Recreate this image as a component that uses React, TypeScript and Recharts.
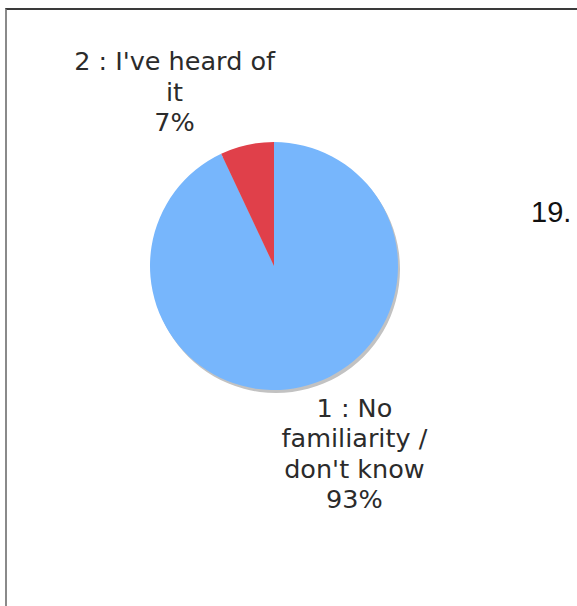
import React from 'react';
import { PieChart, Pie, Cell } from 'recharts';

// answers to the survey question, shares in percent
const answers = ["1 : No familiarity / don't know", "2 : I've heard of it"];
const shares = [93, 7];
const labelLines = [
  ['1 : No', 'familiarity /', "don't know"],
  ["2 : I've heard of", 'it'],
];
const sliceColors = ['#77b6fc', '#e0404a'];

const data = answers.map((name, i) => ({
  name,
  value: shares[i],
  lines: labelLines[i],
}));
const shadow = [{ name: 'shadow', value: 1 }];

const RADIAN = Math.PI / 180;
const LINE_H = 30.5;

const renderLabel = (props: any) => {
  const { cx, cy, midAngle, outerRadius, percent, index } = props;
  const entry = props.payload && props.payload.lines ? props.payload : data[index];
  const cos = Math.cos(-midAngle * RADIAN);
  const sin = Math.sin(-midAngle * RADIAN);
  const ax = cx + (outerRadius + 20) * cos;
  const ay = cy + (outerRadius + 20) * sin;
  const lines: string[] = [...entry.lines, `${Math.round(percent * 100)}%`];
  const x = ax + (cos < 0 ? -68 : 49);
  const up = sin < 0;
  return (
    <g>
      {lines.map((t, i) => {
        const y = up
          ? ay + 6 - (lines.length - 1 - i) * LINE_H
          : ay + 10 + i * LINE_H;
        return (
          <text
            key={i}
            x={x}
            y={y}
            textAnchor="middle"
            fill="#2b2b2b"
            fontSize={25.5}
            fontFamily="Verdana, 'DejaVu Sans', sans-serif"
          >
            {t}
          </text>
        );
      })}
    </g>
  );
};

export default function App() {
  return (
    <div
      style={{
        position: 'absolute',
        left: 0,
        top: 0,
        width: 577,
        height: 606,
        overflow: 'hidden',
        background: '#fff',
      }}
    >
      <div
        style={{
          position: 'absolute',
          left: 5,
          top: 8,
          width: 572,
          height: 598,
          borderLeft: '2px solid #8a8a8a',
          borderTop: '2px solid #3a3a3a',
          boxSizing: 'border-box',
        }}
      />
      <div
        style={{
          position: 'absolute',
          left: 531,
          top: 196,
          fontFamily: "Arial, 'Liberation Sans', sans-serif",
          fontSize: 29,
          color: '#111',
          whiteSpace: 'nowrap',
        }}
      >
        19.
      </div>
      <div style={{ position: 'absolute', left: 0, top: 0 }}>
        <PieChart
          width={520}
          height={606}
          margin={{ top: 0, right: 0, bottom: 0, left: 0 }}
        >
          <Pie
            data={shadow}
            dataKey="value"
            cx={276}
            cy={269}
            outerRadius={124}
            fill="#c2c2c2"
            stroke="none"
            isAnimationActive={false}
          />
          <Pie
            data={data}
            dataKey="value"
            nameKey="name"
            cx={274}
            cy={266}
            outerRadius={124}
            startAngle={90}
            endAngle={-270}
            stroke="none"
            label={renderLabel}
            labelLine={false}
            isAnimationActive={false}
          >
            {data.map((d, i) => (
              <Cell key={d.name} fill={sliceColors[i]} />
            ))}
          </Pie>
        </PieChart>
      </div>
    </div>
  );
}
